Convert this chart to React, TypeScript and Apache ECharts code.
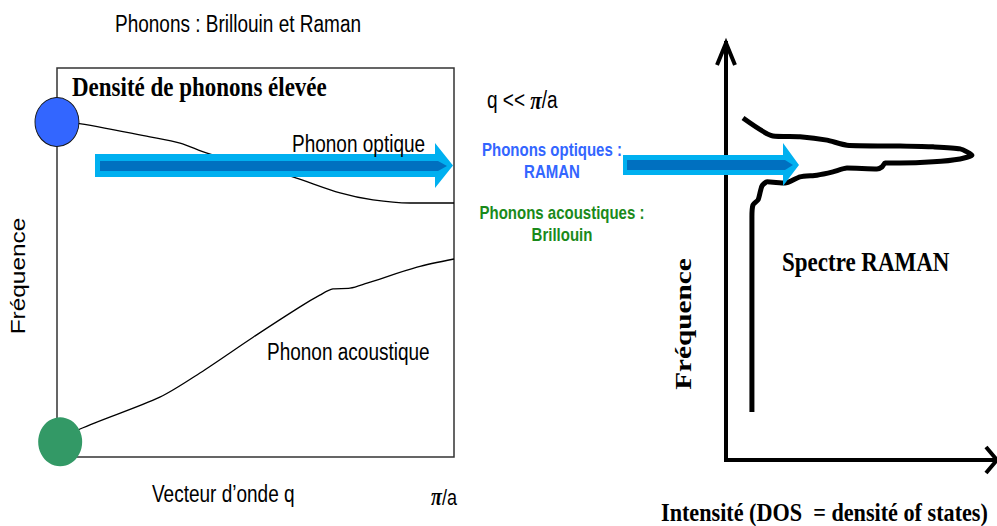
import React, { useEffect, useRef } from "react";
import * as echarts from "echarts";

// Left panel: dispersion curves (q as fraction of pi/a, frequency in arbitrary units 0..100)
const opticalQ = [0, 0.045, 0.234, 0.31, 0.378, 0.486, 0.594, 0.713, 0.796, 0.889, 1];
const opticalFreq = [86.1, 85.9, 82.3, 80.7, 78.1, 75.1, 72.0, 67.9, 66.1, 65.3, 65.3];
const acousticQ = [0.008, 0.058, 0.259, 0.36, 0.494, 0.612, 0.662, 0.695, 0.738, 0.781, 0.907, 1];
const acousticFreq = [3.9, 7.2, 15.4, 21.6, 30.8, 38.6, 41.6, 43.2, 43.4, 44.7, 48.8, 50.9];

// Right panel: Raman spectrum (intensity 0..100, frequency 0..100)
const ramanIntensity = [6.3, 17.4, 27.4, 37.4, 44.8, 64.4, 76.7, 86.7, 91.1, 86.7, 76.7, 64.4, 58.9, 57.8, 55.9, 44.8, 39.6, 33.7, 27.4, 21.9, 15.2, 13.3, 11.9, 10.0, 9.6, 9.6];
const ramanFreq = [82.0, 77.7, 77.5, 76.7, 75.5, 75.3, 75.1, 74.6, 73.1, 72.2, 71.5, 71.2, 71.2, 70.3, 69.8, 70.0, 69.1, 68.3, 67.9, 66.4, 66.7, 65.7, 62.4, 61.2, 58.3, 11.5];

const SANS = '"Liberation Sans", Arial, Helvetica, sans-serif';
const SERIF = '"Liberation Serif", "Times New Roman", Times, serif';
const SY = 1.22;

function label(text: string, x: number, y: number, fontSize: number, extra: any = {}) {
  const { rotate = false, align = "left", weight = "normal", family = SANS, color = "#000", rich, sy = SY } = extra;
  const style: any = {
    text,
    fontSize,
    fontFamily: family,
    fontWeight: weight,
    fill: color,
    align,
    verticalAlign: "middle",
    textAlign: align,
    textVerticalAlign: "middle",
  };
  if (rich) style.rich = rich;
  return {
    type: "text",
    x,
    y,
    z: 100,
    rotation: rotate ? Math.PI / 2 : 0,
    scaleX: rotate ? sy : 1,
    scaleY: rotate ? 1 : sy,
    style,
  };
}

const piRich = (fs: number) => ({
  p: { fontWeight: "bold", fontStyle: "italic", fontSize: fs, fontFamily: SERIF },
});

export default function App() {
  const ref = useRef<HTMLDivElement>(null);
  useEffect(() => {
    if (!ref.current) return;
    const chart = echarts.init(ref.current, undefined, { renderer: "svg" });
    const hidden = { show: false };
    const option: any = {
      animation: false,
      backgroundColor: "#fff",
      grid: [
        { left: 57, top: 68, width: 397, height: 389, show: true, borderColor: "#333", borderWidth: 1.5, backgroundColor: "transparent" },
        { left: 726, top: 43, width: 270, height: 417 },
      ],
      xAxis: [
        { gridIndex: 0, type: "value", min: 0, max: 1, axisLine: hidden, axisTick: hidden, axisLabel: hidden, splitLine: hidden },
        {
          gridIndex: 1, type: "value", min: 0, max: 100,
          axisLine: { show: true, onZero: false, lineStyle: { color: "#000", width: 4, cap: "square" } },
          axisTick: hidden, axisLabel: hidden, splitLine: hidden,
        },
      ],
      yAxis: [
        { gridIndex: 0, type: "value", min: 0, max: 100, axisLine: hidden, axisTick: hidden, axisLabel: hidden, splitLine: hidden },
        {
          gridIndex: 1, type: "value", min: 0, max: 100,
          axisLine: { show: true, onZero: false, lineStyle: { color: "#000", width: 4, cap: "square" } },
          axisTick: hidden, axisLabel: hidden, splitLine: hidden,
        },
      ],
      series: [
        {
          type: "line", name: "Phonon optique", xAxisIndex: 0, yAxisIndex: 0, z: 2,
          data: opticalQ.map((q, i) => [q, opticalFreq[i]]),
          smooth: 0.3, showSymbol: false, symbol: "none",
          lineStyle: { color: "#000", width: 1.3 },
        },
        {
          type: "line", name: "Phonon acoustique", xAxisIndex: 0, yAxisIndex: 0, z: 2,
          data: acousticQ.map((q, i) => [q, acousticFreq[i]]),
          smooth: 0.3, showSymbol: false, symbol: "none",
          lineStyle: { color: "#000", width: 1.3 },
        },
        {
          type: "scatter", xAxisIndex: 0, yAxisIndex: 0, z: 5, clip: false,
          symbol: "circle", symbolSize: [44, 49],
          itemStyle: { opacity: 1 },
          data: [
            { value: [opticalQ[0], opticalFreq[0]], itemStyle: { color: "#3366ff", borderColor: "#1a1a1a", borderWidth: 1, opacity: 1 } },
            { value: [acousticQ[0], acousticFreq[0]], itemStyle: { color: "#339966", opacity: 1 } },
          ],
        },
        {
          type: "line", name: "Spectre RAMAN", xAxisIndex: 1, yAxisIndex: 1, z: 2,
          data: ramanIntensity.map((v, i) => [v, ramanFreq[i]]),
          smooth: 0.2, showSymbol: false, symbol: "none", clip: false,
          lineStyle: { color: "#000", width: 5, join: "round", cap: "butt" },
        },
      ],
      graphic: [
        // big blue arrows
        { type: "polygon", z: 90, shape: { points: [[95, 154], [435, 154], [435, 143], [453, 165.5], [435, 188], [435, 177], [95, 177]] }, style: { fill: "#00b0f0" } },
        { type: "polygon", z: 91, shape: { points: [[100, 161], [438, 161], [447, 166], [438, 171], [100, 171]] }, style: { fill: "#0070c0" } },
        { type: "polygon", z: 90, shape: { points: [[623, 155], [783, 155], [783, 143], [799, 165], [783, 186], [783, 175], [623, 175]] }, style: { fill: "#00b0f0" } },
        { type: "polygon", z: 91, shape: { points: [[627, 160], [785, 160], [793, 165], [785, 170], [627, 170]] }, style: { fill: "#0070c0" } },
        // axis arrowheads (right panel)
        { type: "polyline", z: 95, shape: { points: [[717, 65], [726, 43], [735, 65]] }, style: { stroke: "#000", lineWidth: 4, fill: null, lineJoin: "miter" } },
        { type: "polyline", z: 95, shape: { points: [[986, 447], [997, 460], [986, 473]] }, style: { stroke: "#000", lineWidth: 4, fill: null, lineJoin: "miter" } },
        // texts
        label("Phonons : Brillouin et Raman", 115, 24, 19),
        label("Densité de phonons élevée", 72, 87, 23, { family: SERIF, weight: "bold" }),
        label("Phonon optique", 292, 143.5, 19),
        label("Phonon acoustique", 267, 351.5, 19),
        label("Vecteur d’onde q", 152, 494, 19),
        label("{p|π}/a", 457, 497, 18, { align: "right", rich: piRich(20) }),
        label("Fréquence", 18, 276, 20, { rotate: true, align: "center" }),
        label("q << {p|π}/a", 487, 100, 19, { rich: piRich(21) }),
        label("Phonons optiques :", 552, 150, 15, { align: "center", weight: "bold", color: "#3366ff" }),
        label("RAMAN", 552, 172, 15, { align: "center", weight: "bold", color: "#3366ff" }),
        label("Phonons acoustiques :", 562, 212.5, 15, { align: "center", weight: "bold", color: "#1a8a1a" }),
        label("Brillouin", 562, 234.5, 15, { align: "center", weight: "bold", color: "#1a8a1a" }),
        label("Spectre RAMAN", 782, 262, 23, { family: SERIF, weight: "bold" }),
        label("Fréquence", 683, 324, 24, { rotate: true, align: "center", family: SERIF, weight: "bold" }),
        label("Intensité (DOS  = densité of states)", 661, 512, 22.2, { family: SERIF, weight: "bold", sy: 1.15 }),
      ],
    };
    chart.setOption(option);
    return () => chart.dispose();
  }, []);
  return <div ref={ref} style={{ position: "fixed", left: 0, top: 0, width: 997, height: 526 }} />;
}
